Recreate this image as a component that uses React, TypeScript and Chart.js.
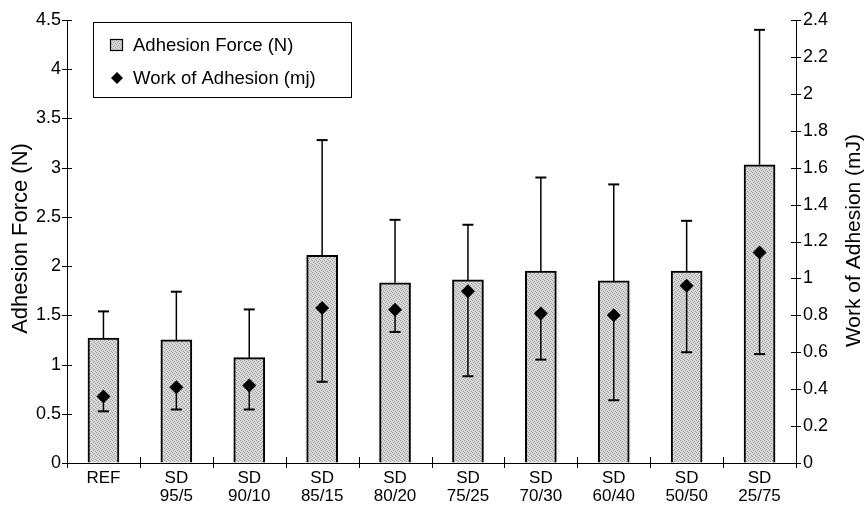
import React, { useEffect, useRef } from "react";
import { Chart, registerables } from "chart.js";

Chart.register(...registerables);

const categories: string[][] = [
  ["REF"], ["SD", "95/5"], ["SD", "90/10"], ["SD", "85/15"], ["SD", "80/20"],
  ["SD", "75/25"], ["SD", "70/30"], ["SD", "60/40"], ["SD", "50/50"], ["SD", "25/75"],
];
const forceValues = [1.27, 1.25, 1.07, 2.11, 1.83, 1.86, 1.95, 1.85, 1.95, 3.03];
const forceErr = [0.27, 0.49, 0.49, 1.17, 0.64, 0.56, 0.95, 0.98, 0.51, 1.37];
const workValues = [0.36, 0.41, 0.42, 0.84, 0.83, 0.93, 0.81, 0.80, 0.96, 1.14];
const workErr = [0.08, 0.12, 0.13, 0.40, 0.12, 0.46, 0.25, 0.46, 0.36, 0.55];

const forceLabel = "Adhesion Force (N)";
const workLabel = "Work of Adhesion (mj)";
const leftTitle = "Adhesion Force (N)";
const rightTitle = "Work of Adhesion (mJ)";

const FONT = "'Liberation Sans', Arial, Helvetica, sans-serif";

function makePattern(): CanvasPattern | string {
  const c = document.createElement("canvas");
  c.width = 4;
  c.height = 4;
  const g = c.getContext("2d");
  if (!g) return "#c8c8c8";
  g.fillStyle = "#d8d8d8";
  g.fillRect(0, 0, 4, 4);
  g.fillStyle = "#a0a0a0";
  [[0, 0], [2, 1], [1, 2], [3, 3]].forEach(([px, py]) => g.fillRect(px, py, 1, 1));
  return g.createPattern(c, "repeat") || "#c8c8c8";
}

const fmt = (v: any) => String(Math.round(Number(v) * 100) / 100);

export default function App() {
  const ref = useRef<HTMLCanvasElement | null>(null);

  useEffect(() => {
    document.body.style.margin = "0";
    const canvas = ref.current;
    if (!canvas) return;
    const pattern = makePattern();

    const line = (ctx: CanvasRenderingContext2D, x1: number, y1: number, x2: number, y2: number, w: number) => {
      ctx.lineWidth = w;
      ctx.beginPath();
      ctx.moveTo(x1, y1);
      ctx.lineTo(x2, y2);
      ctx.stroke();
    };

    const errPlugin = {
      id: "errBars",
      afterDatasetsDraw(chart: any) {
        const ctx = chart.ctx as CanvasRenderingContext2D;
        const y = chart.scales.y;
        const y1 = chart.scales.y1;
        const barMeta = chart.getDatasetMeta(0);
        const ptMeta = chart.getDatasetMeta(1);
        ctx.save();
        ctx.strokeStyle = "#000";
        forceValues.forEach((v, i) => {
          const x = barMeta.data[i].x;
          const yTop = y.getPixelForValue(v);
          const yE = y.getPixelForValue(v + forceErr[i]);
          line(ctx, x, yTop, x, yE, 1.5);
          line(ctx, x - 5.5, yE, x + 5.5, yE, 2);
        });
        workValues.forEach((v, i) => {
          const x = ptMeta.data[i].x;
          const yc = y1.getPixelForValue(v);
          const yE = y1.getPixelForValue(v - workErr[i]);
          line(ctx, x, yc, x, yE, 1.5);
          line(ctx, x - 5.5, yE, x + 5.5, yE, 2);
        });
        ctx.restore();
      },
    };

    const decorPlugin = {
      id: "decor",
      afterDraw(chart: any) {
        const ctx = chart.ctx as CanvasRenderingContext2D;
        const { left, right, top, bottom } = chart.chartArea;
        const y = chart.scales.y;
        const y1 = chart.scales.y1;
        const xs = chart.scales.x;
        ctx.save();
        ctx.strokeStyle = "#000";
        y.ticks.forEach((t: any) => {
          const py = Math.round(y.getPixelForValue(t.value)) + 0.5;
          line(ctx, left - 5, py, left + 5, py, 1);
        });
        y1.ticks.forEach((t: any) => {
          const py = Math.round(y1.getPixelForValue(t.value)) + 0.5;
          line(ctx, right - 5, py, right + 5, py, 1);
        });
        for (let k = 0; k <= categories.length; k++) {
          const px = Math.round(xs.getPixelForValue(k - 0.5)) + 0.5;
          line(ctx, px, bottom - 6, px, bottom + 5, 1);
        }
        ctx.fillStyle = "#000";
        ctx.font = `22px ${FONT}`;
        ctx.textAlign = "center";
        ctx.textBaseline = "middle";
        ctx.save();
        ctx.translate(21, (top + bottom) / 2 - 3);
        ctx.rotate(-Math.PI / 2);
        ctx.fillText(leftTitle, 0, 0);
        ctx.restore();
        ctx.font = `21px ${FONT}`;
        ctx.save();
        ctx.translate(854, (top + bottom) / 2 - 1);
        ctx.rotate(-Math.PI / 2);
        ctx.fillText(rightTitle, 0, 0);
        ctx.restore();
        // legend
        const lx = left + 26;
        const ly = top + 2;
        const lw = 258;
        const lh = 75;
        ctx.fillStyle = "#fff";
        ctx.fillRect(lx, ly, lw, lh);
        ctx.lineWidth = 1;
        ctx.strokeRect(lx + 0.5, ly + 0.5, lw, lh);
        ctx.fillStyle = pattern as any;
        ctx.fillRect(lx + 17, ly + 17, 13, 12);
        ctx.lineWidth = 1.2;
        ctx.strokeRect(lx + 17.5, ly + 17.5, 12, 11);
        ctx.fillStyle = "#000";
        ctx.beginPath();
        const dx = lx + 24, dy = ly + 56;
        ctx.moveTo(dx, dy - 6);
        ctx.lineTo(dx + 6, dy);
        ctx.lineTo(dx, dy + 6);
        ctx.lineTo(dx - 6, dy);
        ctx.closePath();
        ctx.fill();
        ctx.font = `18.5px ${FONT}`;
        ctx.textAlign = "left";
        ctx.textBaseline = "alphabetic";
        ctx.fillText(forceLabel, lx + 40, ly + 29);
        ctx.fillText(workLabel, lx + 40, ly + 62);
        ctx.restore();
      },
    };

    const xFont = { family: FONT, size: 17, lineHeight: 1.08 };
    const yFont = { family: FONT, size: 18 };

    const chart = new Chart(canvas, {
      data: {
        labels: categories,
        datasets: [
          {
            type: "bar",
            label: forceLabel,
            data: forceValues,
            yAxisID: "y",
            backgroundColor: pattern as any,
            borderColor: "#000",
            borderWidth: 2,
            barThickness: 31,
            order: 2,
          },
          {
            type: "line",
            label: workLabel,
            data: workValues,
            yAxisID: "y1",
            showLine: false,
            pointStyle: "rectRot",
            pointRadius: 7,
            pointBackgroundColor: "#000",
            pointBorderColor: "#000",
            pointBorderWidth: 0,
            order: 1,
          },
        ],
      } as any,
      options: {
        responsive: true,
        maintainAspectRatio: false,
        animation: false,
        layout: { padding: { top: 20, left: 0, right: 0, bottom: 0 } },
        plugins: { legend: { display: false }, tooltip: { enabled: false } },
        scales: {
          x: {
            type: "category",
            offset: true,
            grid: { display: true, drawOnChartArea: false, drawTicks: false },
            border: { display: true, color: "#000", width: 1 },
            ticks: { color: "#000", font: xFont, padding: 6, autoSkip: false, maxRotation: 0 },
            afterFit: (s: any) => { s.height = 43; },
          },
          y: {
            position: "left",
            min: 0,
            max: 4.5,
            grid: { display: true, drawOnChartArea: false, drawTicks: false },
            border: { display: true, color: "#000", width: 1 },
            ticks: { stepSize: 0.5, color: "#000", font: yFont, padding: 6, callback: fmt },
            afterFit: (s: any) => { s.width = 67; },
          },
          y1: {
            position: "right",
            min: 0,
            max: 2.4,
            grid: { display: true, drawOnChartArea: false, drawTicks: false },
            border: { display: true, color: "#000", width: 1 },
            ticks: { stepSize: 0.2, color: "#000", font: yFont, padding: 7, callback: fmt },
            afterFit: (s: any) => { s.width = 71; },
          },
        },
      } as any,
      plugins: [errPlugin, decorPlugin],
    });
    return () => chart.destroy();
  }, []);

  return (
    <div style={{ position: "fixed", left: 0, top: 0, width: 867, height: 506 }}>
      <canvas ref={ref} />
    </div>
  );
}
